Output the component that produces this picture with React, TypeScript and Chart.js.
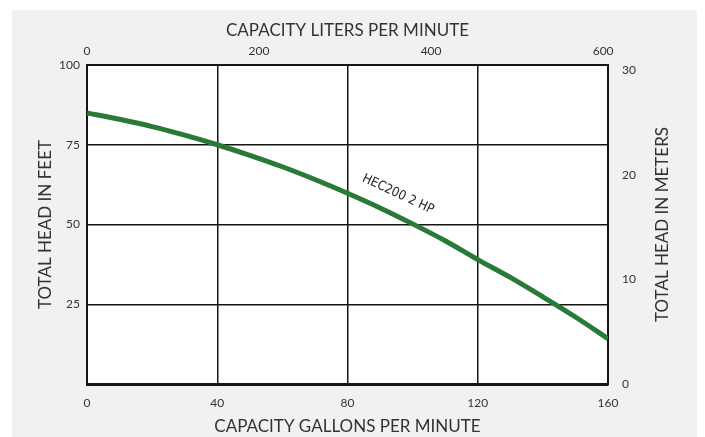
import { useEffect, useRef } from 'react';
import { Chart, registerables } from 'chart.js';

Chart.register(...registerables);

const flowGpm = [0, 10, 20, 30, 40, 50, 60, 70, 80, 90, 100, 110, 120, 130, 140, 150, 160];
const headFt = [85, 83.0, 80.7, 78.0, 75, 71.7, 68.1, 64.1, 59.8, 55.2, 50.2, 44.9, 39.0, 33.4, 27.3, 21.0, 14.2];
const gpmTicks = [0, 40, 80, 120, 160];
const lpmTicks = [0, 200, 400, 600];
const feetTicks = [0, 25, 50, 75, 100];
const meterTicks = [0, 10, 20, 30];
const curveName = 'HEC200 2 HP';
const curveNameAt = { gpm: 95.5, ft: 59.5 };
const rightTitle = 'TOTAL HEAD IN METERS';

const GPM_TO_LPM = 3.78541;
const FT_TO_M = 0.3048;
const FONT = "Lato, 'Open Sans', sans-serif";
const TEXT = '#333333';
const LINE = '#151515';
const TITLE_SIZE = 17;

export default function App() {
  const ref = useRef<HTMLCanvasElement | null>(null);

  useEffect(() => {
    const canvas = ref.current;
    if (!canvas) return;

    const panelPlugin = {
      id: 'panel',
      beforeDraw(chart: any) {
        const { ctx, chartArea } = chart;
        ctx.save();
        ctx.fillStyle = '#ffffff';
        ctx.fillRect(0, 0, chart.width, chart.height);
        ctx.fillStyle = '#f1f1f1';
        ctx.fillRect(12, 10, chart.width - 20, chart.height - 10);
        ctx.fillStyle = '#ffffff';
        ctx.fillRect(chartArea.left, chartArea.top, chartArea.right - chartArea.left, chartArea.bottom - chartArea.top);
        ctx.restore();
      },
    };

    const labelPlugin = {
      id: 'curveLabel',
      afterDatasetsDraw(chart: any) {
        const { ctx, scales, chartArea } = chart;
        const px = scales.x.getPixelForValue(curveNameAt.gpm);
        const py = scales.y.getPixelForValue(curveNameAt.ft);
        ctx.save();
        ctx.translate(px, py);
        ctx.rotate((25 * Math.PI) / 180);
        ctx.fillStyle = '#222';
        ctx.font = "13px 'Liberation Sans Narrow', 'DejaVu Sans Condensed', sans-serif";
        ctx.textAlign = 'center';
        ctx.textBaseline = 'middle';
        ctx.fillText(curveName, 0, 0);
        ctx.restore();

        // right axis title, reading bottom-to-top like the left one
        ctx.save();
        ctx.translate(scales.y2.right - 42, (chartArea.top + chartArea.bottom) / 2);
        ctx.rotate(-Math.PI / 2);
        ctx.fillStyle = TEXT;
        ctx.font = `${TITLE_SIZE}px ${FONT}`;
        ctx.textAlign = 'center';
        ctx.textBaseline = 'middle';
        ctx.fillText(rightTitle, 0, 0);
        ctx.restore();
      },
    };

    const setTicks = (vals: number[]) => (scale: any) => {
      scale.ticks = vals.map((v) => ({ value: v }));
    };

    const chart = new Chart(canvas, {
      type: 'scatter',
      data: {
        datasets: [
          {
            data: flowGpm.map((g, i) => ({ x: g, y: headFt[i] })),
            showLine: true,
            borderColor: '#287a36',
            borderWidth: 5,
            pointRadius: 0,
            cubicInterpolationMode: 'monotone',
            xAxisID: 'x',
            yAxisID: 'y',
          } as any,
        ],
      },
      options: {
        animation: false,
        responsive: false,
        layout: { padding: 0 },
        plugins: {
          legend: { display: false },
          tooltip: { enabled: false },
        },
        scales: {
          x: {
            type: 'linear',
            position: 'bottom',
            min: 0,
            max: 160,
            afterBuildTicks: setTicks(gpmTicks),
            afterFit: (s: any) => { s.height = 53; },
            grid: { color: LINE, lineWidth: 1.5, drawTicks: false },
            border: { display: true, color: LINE, width: 3 },
            ticks: { padding: 12, color: TEXT, font: { family: FONT, size: 12 } },
            title: {
              display: true,
              text: 'CAPACITY GALLONS PER MINUTE',
              color: TEXT,
              font: { family: FONT, size: TITLE_SIZE },
              padding: { top: 0, bottom: 0 },
            },
          },
          x2: {
            type: 'linear',
            position: 'top',
            min: 0,
            max: 160 * GPM_TO_LPM,
            afterBuildTicks: setTicks(lpmTicks),
            afterFit: (s: any) => { s.height = 65; },
            grid: { display: false, drawTicks: false },
            border: { display: true, color: LINE, width: 2 },
            ticks: { padding: 7, color: TEXT, font: { family: FONT, size: 12 } },
            title: {
              display: true,
              text: 'CAPACITY LITERS PER MINUTE',
              color: TEXT,
              font: { family: FONT, size: TITLE_SIZE },
              padding: { top: 20, bottom: 0 },
            },
          },
          y: {
            type: 'linear',
            position: 'left',
            min: 0,
            max: 100,
            afterBuildTicks: setTicks(feetTicks),
            afterFit: (s: any) => { s.width = 87; },
            grid: { color: LINE, lineWidth: 1.5, drawTicks: false },
            border: { display: true, color: LINE, width: 2 },
            ticks: {
              padding: 7,
              color: TEXT,
              font: { family: FONT, size: 12 },
              callback: (v: any) => (v === 0 ? '' : String(v)),
            },
            title: {
              display: true,
              text: 'TOTAL HEAD IN FEET',
              color: TEXT,
              font: { family: FONT, size: TITLE_SIZE },
              padding: { top: 35, bottom: 0 },
            },
          },
          y2: {
            type: 'linear',
            position: 'right',
            min: 0,
            max: 100 * FT_TO_M,
            afterBuildTicks: setTicks(meterTicks),
            afterFit: (s: any) => { s.width = 97; },
            grid: { display: false, drawTicks: false },
            border: { display: true, color: LINE, width: 2 },
            ticks: { padding: 14, color: TEXT, font: { family: FONT, size: 12 } },
            title: { display: false },
          },
        },
      } as any,
      plugins: [panelPlugin, labelPlugin],
    });

    return () => chart.destroy();
  }, []);

  return (
    <div style={{ position: 'absolute', left: 0, top: 0, width: 705, height: 437 }}>
      <canvas ref={ref} width={705} height={437} style={{ display: 'block', width: 705, height: 437 }} />
    </div>
  );
}
